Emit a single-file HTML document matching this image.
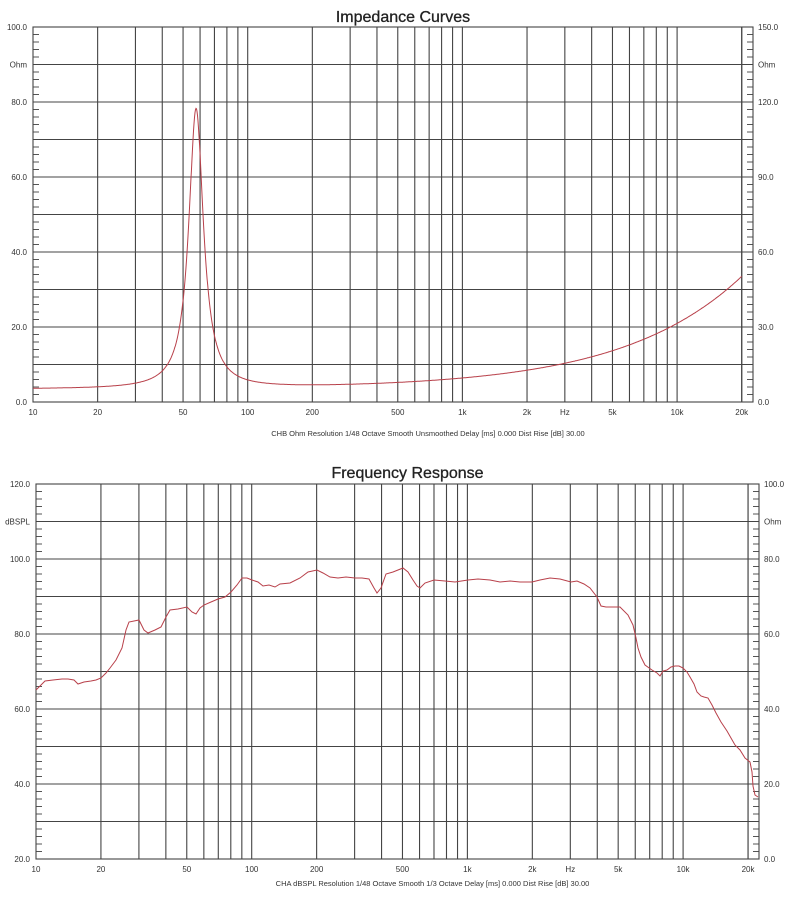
<!DOCTYPE html>
<html><head><meta charset="utf-8"><style>
body{margin:0;background:#fff;width:800px;height:904px;overflow:hidden}
svg text{font-family:"Liberation Sans",sans-serif;fill:#333}
</style></head><body>
<svg id="s" width="800" height="904" viewBox="0 0 800 904" xmlns="http://www.w3.org/2000/svg"></svg>
<script>
const s=document.getElementById('s');let h='';
function chart(L,R,T,B,dec,x20k,leftLab,rightLab,unitL,unitR,title,ty,cap,cy,curve){
  const X=f=>L+Math.log10(f/10)*dec;
  h+=`<text x="${(L+R)/2+10}" y="${ty}" font-size="16" text-anchor="middle" style="fill:#222;stroke:#222;stroke-width:0.3">${title}</text>`;
  for(let i=0;i<=10;i++){const y=T+i*(B-T)/10;h+=`<line x1="${L}" x2="${R}" y1="${y}" y2="${y}" stroke="#444" stroke-width="1.1"/>`;}
  for(let i=0;i<50;i++){if(i%5==0)continue;const y=T+i*(B-T)/50;h+=`<line x1="${L}" x2="${L+6}" y1="${y}" y2="${y}" stroke="#555"/><line x1="${R-6}" x2="${R}" y1="${y}" y2="${y}" stroke="#555"/>`;}
  const fs=[];for(let d=10;d<=10000;d*=10)for(let m=1;m<=9;m++)fs.push(d*m);fs.push(20000);
  for(const f of fs){const x=X(f);if(x<=L+0.5||x>=R-1)continue;h+=`<line x1="${x}" x2="${x}" y1="${T}" y2="${B}" stroke="#444" stroke-width="1.1"/>`;}
  h+=`<rect x="${L}" y="${T}" width="${R-L}" height="${B-T}" fill="none" stroke="#444" stroke-width="1.1"/>`;
  leftLab.forEach((t,i)=>{if(t===null)return;const y=T+i*(B-T)/10;h+=`<text x="${L-6}" y="${y+3}" font-size="8" text-anchor="end">${t}</text>`;});
  rightLab.forEach((t,i)=>{if(t===null)return;const y=T+i*(B-T)/10;h+=`<text x="${R+5}" y="${y+3}" font-size="8">${t}</text>`;});
  const xl=[[10,'10'],[20,'20'],[50,'50'],[100,'100'],[200,'200'],[500,'500'],[1000,'1k'],[2000,'2k'],[3000,'Hz'],[5000,'5k'],[10000,'10k'],[20000,'20k']];
  for(const [f,t] of xl)h+=`<text x="${X(f)}" y="${B+13}" font-size="8" text-anchor="middle">${t}</text>`;
  h+=`<text x="${(L+R)/2+35}" y="${cy}" font-size="7.5" text-anchor="middle">${cap}</text>`;
  h+=`<polyline points="${curve(X)}" fill="none" stroke="#b8404a" stroke-width="1"/>`;
}
chart(33,753,27,402,214.7,742,['100.0','Ohm','80.0',null,'60.0',null,'40.0',null,'20.0',null,'0.0'],
 ['150.0','Ohm','120.0',null,'90.0',null,'60.0',null,'30.0',null,'0.0'],'','', 'Impedance Curves',22,
 'CHB Ohm Resolution 1/48 Octave Smooth Unsmoothed Delay [ms] 0.000 Dist Rise [dB] 30.00',436,
 X=>{let p=[];for(let i=0;i<=1400;i++){const f=10*Math.pow(2000,i/1400);const r=f/57.5-57.5/f;
   let z=3.5+74.5/(1+27.9*r*r)+2.9*Math.pow(f/1000,0.78);
   const y=402-z*3.75;p.push(X(f).toFixed(1)+','+y.toFixed(1));}return p.join(' ');});
const fr=[[36,690],[40,686],[45,681],[53,680],[62,679],[68,679],[74,680],[78,684],[84,682],[91,681],[96,680],[101,678],[106,673],[110,668],[116,660],[122,648],[126,630],[129,622],[134,621],[139,620],[144,630],[148,633],[155,630],[161,627],[166,617],[170,610],[178,609],[187,607],[192,612],[196,614],[200,608],[204,605],[211,602],[218,599],[225,597],[231,592],[237,585],[242,578],[247,578],[252,580],[258,582],[263,586],[269,585],[275,587],[280,584],[290,583],[300,578],[308,572],[317,570],[323,573],[330,577],[338,578],[346,577],[355,578],[362,578],[369,579],[374,588],[377,593],[381,588],[386,574],[393,572],[398,570],[403,568],[408,572],[413,580],[417,586],[420,588],[425,583],[434,580],[445,581],[455,582],[468,580],[478,579],[490,580],[500,582],[510,581],[520,582],[532,582],[540,580],[550,578],[560,579],[571,582],[577,581],[584,584],[590,588],[597,597],[601,606],[606,607],[612,607],[620,607],[628,615],[633,625],[636,638],[638,648],[641,657],[645,665],[652,670],[657,673],[660,676],[663,671],[667,670],[671,667],[675,666],[679,666],[683,668],[687,672],[690,677],[694,684],[697,692],[701,696],[704,697],[708,698],[712,705],[716,713],[721,722],[727,731],[731,738],[735,745],[740,750],[745,758],[750,762],[752,772],[753,786],[755,795],[758,797]];
chart(36,759,484,859,215.7,748,['120.0','dBSPL','100.0',null,'80.0',null,'60.0',null,'40.0',null,'20.0'],
 ['100.0','Ohm','80.0',null,'60.0',null,'40.0',null,'20.0',null,'0.0'],'','','Frequency Response',478,
 'CHA dBSPL Resolution 1/48 Octave Smooth 1/3 Octave Delay [ms] 0.000 Dist Rise [dB] 30.00',886,
 X=>fr.map(p=>p.join(',')).join(' '));
s.innerHTML=h;
</script>
</body></html>
